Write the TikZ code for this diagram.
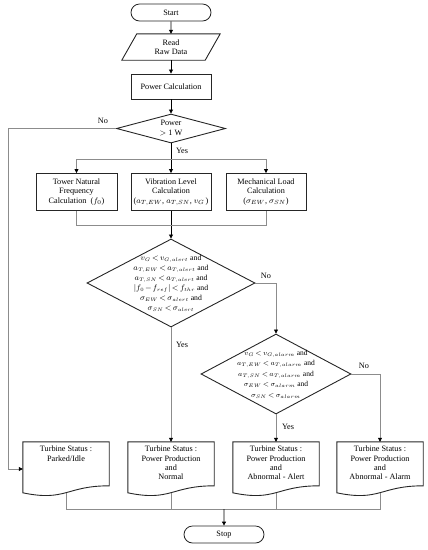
\documentclass[tikz,border=0pt]{standalone}
\usepackage{amsmath,amssymb}
\usepackage{fontspec}
\setmainfont{Liberation Serif}
\usepackage{tikz}
\usetikzlibrary{shapes.geometric, shapes.misc, arrows.meta, positioning, calc}
\newcommand{\tightmath}{\thickmuskip=3mu\relax\medmuskip=2mu\relax}
\tikzset{
  terminal/.style={rounded rectangle, draw=black!85, line width=0.8pt,
                   minimum width=82pt, minimum height=17pt, inner sep=1pt,
                   font=\fontsize{8.2}{9.4}\selectfont},
  block/.style={rectangle, draw=black!85, line width=0.9pt, align=center,
                minimum height=25pt, inner sep=2pt,
                font=\fontsize{8.2}{9.5}\selectfont},
  decision/.style={diamond, draw=black!85, line width=0.9pt, align=center,
                   inner sep=-12pt, font=\fontsize{8.2}{10}\selectfont},
  status/.style={rectangle, minimum width=86pt, minimum height=54pt,
                 inner xsep=3pt, inner ysep=4pt,
                 font=\fontsize{8.2}{9.4}\selectfont},
  docline/.style={draw=black!85, line width=0.9pt},
  conn/.style={draw=black!45, line width=0.7pt},
  trunk/.style={draw=black, line width=0.8pt},
  tip/.style={-{Triangle[length=4pt, width=4pt, color=black]}},
  answer/.style={font=\fontsize{8.2}{9.4}\selectfont, inner sep=1pt},
}
% status text sits at the top of the document shape
\newcommand{\stattext}[1]{\parbox[t][46pt][t]{80pt}{\centering #1}}
% document shape with a wavy bottom
\newcommand{\docshape}[1]{%
  \draw[docline] (#1.north west) -- (#1.north east) -- ($(#1.north east)+(0,44)$)
    .. controls ($(#1.north)+(0,44)$) and ($(#1.north)+(0,60)$)
    .. ($(#1.north west)+(0,51)$) -- cycle;}

\begin{document}
\begin{tikzpicture}[x=1pt, y=-1pt]
  \useasboundingbox (0,0) rectangle (428,550);

  \node[terminal] (start) at (171,12.5) {Start};
  \node[minimum width=83pt, minimum height=26pt, inner sep=0pt, align=center,
        font=\fontsize{8.2}{9.4}\selectfont] (read) at (171,47) {Read\\Raw Data};
  \draw[docline] ([xshift=7.5pt]read.north west) -- ([xshift=7.5pt]read.north east)
    -- ([xshift=-7.5pt]read.south east) -- ([xshift=-7.5pt]read.south west) -- cycle;
  \node[block, minimum width=80pt] (power) at (171,86.5) {Power Calculation};
  \node[decision, minimum width=109pt, minimum height=29pt] (check) at (171,128.5)
    {Power\\$>$ 1 W};

  \node[block, minimum width=81pt, minimum height=37pt] (tower) at (76.5,192)
    {Tower Natural\\Frequency\\Calculation\enspace($f_0$)};
  \node[block, minimum width=80pt, minimum height=37pt] (vib) at (171,192)
    {Vibration Level\\Calculation\\($a_{T,EW}$, $a_{T,SN}$, $v_G$\,)};
  \node[block, minimum width=80pt, minimum height=37pt] (mech) at (266,192)
    {Mechanical Load\\Calculation\\($\sigma_{EW}$, $\sigma_{SN}$)};

  \node[decision, minimum width=168pt, minimum height=88pt,
        font=\fontsize{7.7}{10}\selectfont\tightmath] (alertchk) at (171,283)
    {$v_G < v_{G,alert}$ and\\ $a_{T,EW} < a_{T,alert}$ and\\
     $a_{T,SN} < a_{T,alert}$ and\\ $\left|f_0 - f_{ref}\right| < f_{thr}$ and\\
     $\sigma_{EW} < \sigma_{alert}$ and\\ $\sigma_{SN} < \sigma_{alert}$};
  \node[decision, minimum width=150pt, minimum height=80pt,
        font=\fontsize{7.5}{10.5}\selectfont\tightmath] (alarmchk) at (276,374)
    {$v_G < v_{G,alarm}$ and\\ $a_{T,EW} < a_{T,alarm}$ and\\
     $a_{T,SN} < a_{T,alarm}$ and\\ $\sigma_{EW} < \sigma_{alarm}$ and\\
     $\sigma_{SN} < \sigma_{alarm}$};

  \node[status] (parked) at (66,469) {\stattext{Turbine Status :\\Parked/Idle}};
  \node[status] (normal) at (171,469)
    {\stattext{Turbine Status :\\Power Production\\and\\Normal}};
  \node[status] (alert) at (276,469)
    {\stattext{Turbine Status :\\Power Production\\and\\Abnormal - Alert}};
  \node[status] (alarm) at (380,469)
    {\stattext{Turbine Status :\\Power Production\\and\\Abnormal - Alarm}};
  \docshape{parked} \docshape{normal} \docshape{alert} \docshape{alarm}

  \node[terminal] (stop) at (224,534.5) {Stop};

  \coordinate (rail) at (8,128.5);
  \coordinate (fork) at (171,159);
  \coordinate (merge) at (171,225);
  \coordinate (join) at (224,509);

  % main line
  \draw[trunk, tip] (start) -- (read);
  \draw[trunk, tip] (read) -- (power);
  \draw[trunk, tip] (power) -- (check);
  \draw[trunk, tip] (check) -- (vib);
  \draw[trunk, tip] (vib) -- (alertchk);
  \draw[conn, tip] (fork) -| (tower);
  \draw[conn, tip] (fork) -| (mech);
  \draw[conn] (tower) |- (merge);
  \draw[conn] (mech) |- (merge);

  % decisions
  \draw[conn, tip] (check.west) -- (rail) |- (parked.west);
  \draw[conn, tip] (alertchk) -- (normal);
  \draw[conn, tip] (alertchk.east) -| (alarmchk);
  \draw[conn, tip] (alarmchk) -- (alert);
  \draw[conn, tip] (alarmchk.east) -| (alarm);

  % to stop
  \foreach \st in {parked, normal, alert, alarm}
    \draw[conn] ($(\st.north)+(0,51)$) |- (join);
  \draw[trunk, tip] (join) -- (stop);

  \node[answer] (no1) at (103,121) {No};
  \node[answer] (yes1) at (182,151) {Yes};
  \node[answer] (no2) at (266,276) {No};
  \node[answer] (yes2) at (182,345) {Yes};
  \node[answer] (no3) at (364,366) {No};
  \node[answer] (yes3) at (288,427) {Yes};
\end{tikzpicture}
\end{document}
